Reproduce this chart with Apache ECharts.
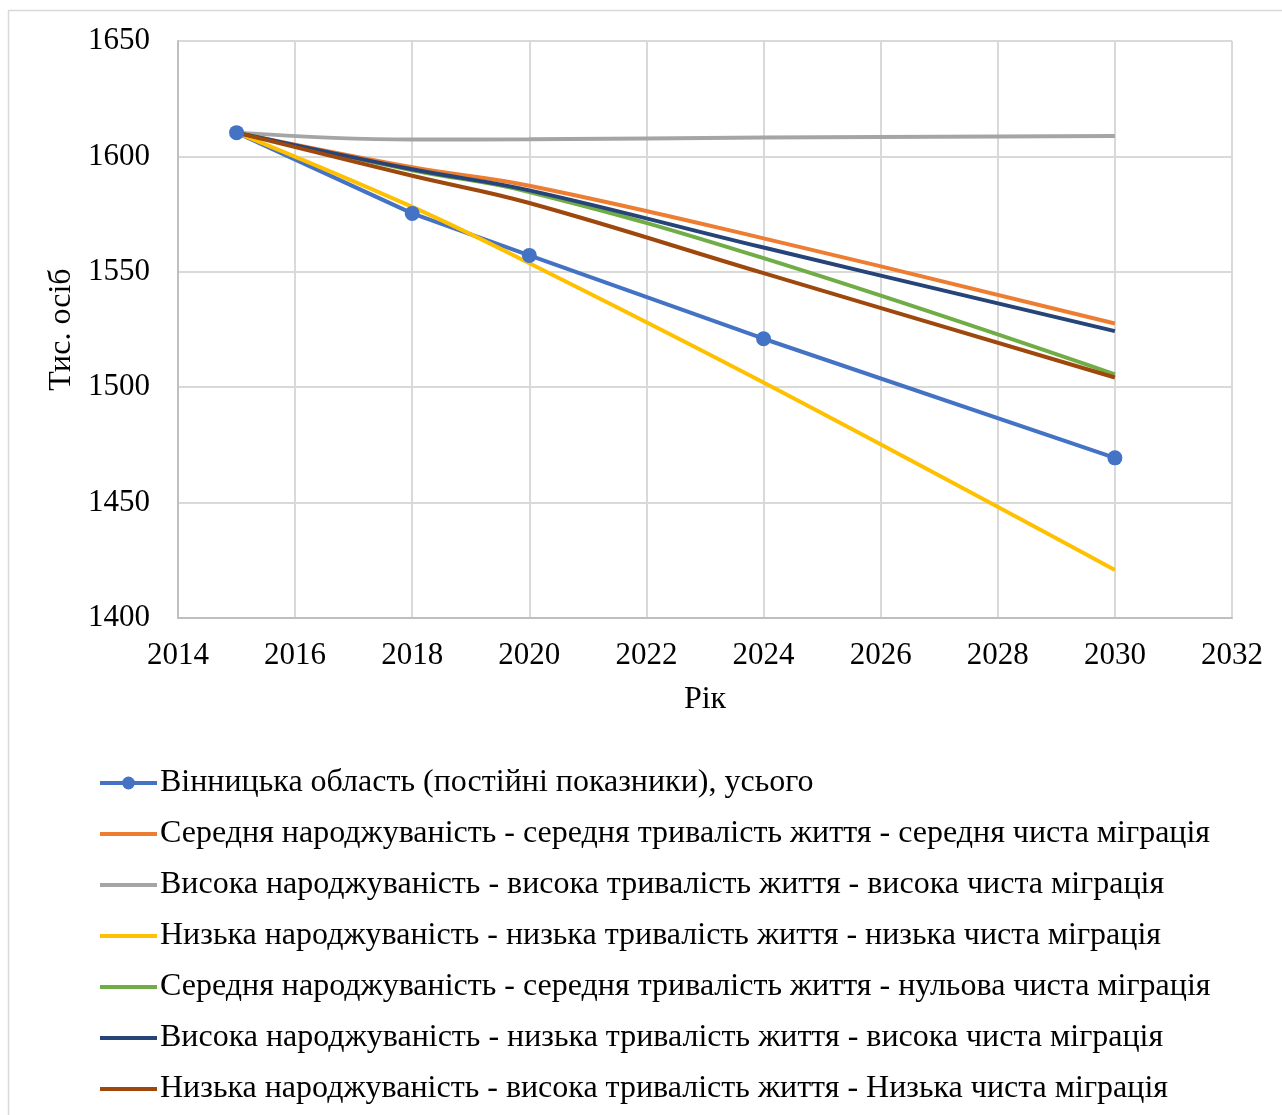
<!DOCTYPE html>
<html>
<head>
<meta charset="utf-8">
<title>echarts</title>
<style>
  html, body { margin: 0; padding: 0; width: 100%; height: 100%; overflow: hidden; background: #fff; }
  #main { width: 1282px; height: 1115px; }
</style>
<script src="https://cdn.jsdelivr.net/npm/echarts@6/dist/echarts.min.js"></script>
</head>
<body>
<div id="main"></div>
<script>
// роки прогнозу
var years = [2015, 2018, 2020, 2024, 2030];

var seriesNames = [
  'Вінницька область (постійні показники), усього',
  'Середня народжуваність - середня тривалість життя - середня чиста міграція',
  'Висока народжуваність - висока тривалість життя - висока чиста міграція',
  'Низька народжуваність - низька тривалість життя - низька чиста міграція',
  'Середня народжуваність - середня тривалість життя - нульова чиста міграція',
  'Висока народжуваність - низька тривалість життя - висока чиста міграція',
  'Низька народжуваність - висока тривалість життя - Низька чиста міграція'
];

// тис. осіб
var vinnytsia   = [1610.3, 1575.3, 1557.1, 1521.0, 1469.4];
var midMidMid   = [1610.3, 1595.3, 1587.3, 1564.5, 1527.6];
var highHighHi  = [1610.3, 1607.3, 1607.4, 1608.2, 1608.8];
var lowLowLow   = [1610.3, 1578.1, 1553.7, 1502.0, 1420.8];
var midMidZero  = [1610.3, 1594.0, 1584.6, 1555.9, 1505.6];
var highLowHigh = [1610.3, 1594.4, 1585.3, 1560.5, 1524.3];
var lowHighLow  = [1610.3, 1591.6, 1579.8, 1549.4, 1504.2];

var allValues = [vinnytsia, midMidMid, highHighHi, lowLowLow, midMidZero, highLowHigh, lowHighLow];
var colors = ['#4472C4', '#ED7D31', '#A5A5A5', '#FFC000', '#70AD47', '#264478', '#9E480E'];

var font = "'Liberation Serif', 'Times New Roman', serif";

function pairs(vals) {
  return years.map(function (y, i) { return [y, vals[i]]; });
}

var series = allValues.map(function (vals, i) {
  var first = i === 0;
  return {
    name: seriesNames[i],
    type: 'line',
    data: pairs(vals),
    smooth: first ? false : 0.4,
    showSymbol: first,
    symbol: first ? 'circle' : 'none',
    symbolSize: 15,
    lineStyle: { width: 4, color: colors[i] },
    itemStyle: { color: colors[i] },
    emphasis: { disabled: true }
  };
});

// у легенді маркер лише в першого ряду
var legendData = seriesNames.map(function (n, i) {
  return i === 0 ? { name: n } : { name: n, itemStyle: { opacity: 0 } };
});

var myChart = echarts.init(document.getElementById('main'));
myChart.setOption({
  animation: false,
  backgroundColor: '#fff',
  textStyle: { fontFamily: font, color: '#000' },
  graphic: [{
    type: 'rect',
    shape: { x: 8.5, y: 10.5, width: 1400, height: 1300 },
    style: { fill: 'none', stroke: '#d9d9d9', lineWidth: 1.5 },
    z: -1
  }],
  grid: { left: 178, right: 50, top: 41, bottom: 497 },
  xAxis: {
    type: 'value',
    min: 2014, max: 2032, interval: 2,
    name: 'Рік',
    nameLocation: 'middle',
    nameGap: 66,
    nameTextStyle: { fontFamily: font, fontSize: 32, color: '#000' },
    axisLine: { lineStyle: { color: '#bfbfbf', width: 2 } },
    axisTick: { show: false },
    axisLabel: { fontFamily: font, fontSize: 31, color: '#000', margin: 22, formatter: function (v) { return String(v); } },
    splitLine: { show: true, lineStyle: { color: '#d9d9d9', width: 2 } }
  },
  yAxis: {
    type: 'value',
    min: 1400, max: 1650, interval: 50,
    name: 'Тис. осіб',
    nameLocation: 'middle',
    nameGap: 100,
    nameTextStyle: { fontFamily: font, fontSize: 32, color: '#000' },
    axisLine: { show: true, lineStyle: { color: '#bfbfbf', width: 2 } },
    axisTick: { show: false },
    axisLabel: { fontFamily: font, fontSize: 31, color: '#000', margin: 28, formatter: function (v) { return String(v); } },
    splitLine: { show: true, lineStyle: { color: '#d9d9d9', width: 2 } }
  },
  legend: {
    orient: 'vertical',
    left: 93,
    top: 762,
    itemWidth: 57,
    itemHeight: 16,
    itemGap: 19,
    data: legendData,
    lineStyle: { width: 4 },
    textStyle: { fontFamily: font, fontSize: 32, color: '#000', lineHeight: 32, padding: [0, 0, 0, -2] },
    selectedMode: false
  },
  series: series
});
</script>
</body>
</html>
